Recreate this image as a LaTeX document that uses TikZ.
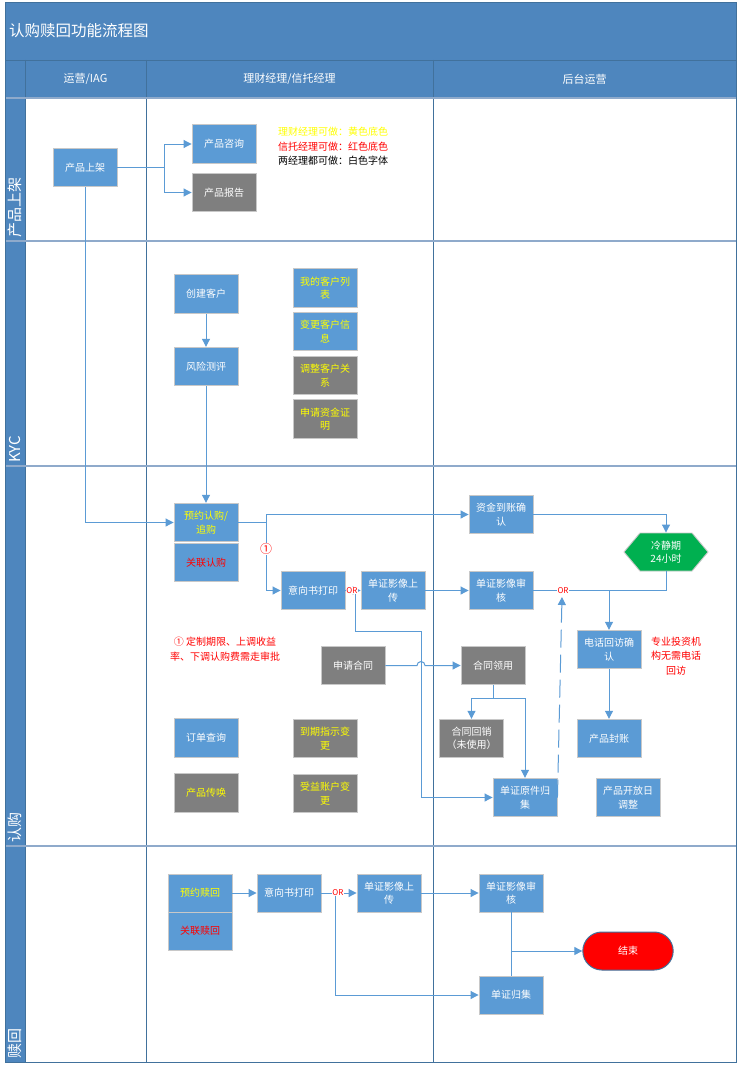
\documentclass[tikz,border=0pt]{standalone}
\usepackage{fontspec}
\setmainfont{Noto Sans CJK SC}
\usetikzlibrary{arrows.meta,shapes.symbols,shapes.misc}

\definecolor{bandblue}{HTML}{4E86BE}
\definecolor{framedark}{HTML}{41719C}
\definecolor{lanesep}{HTML}{8FAACB}
\definecolor{nodeblue}{HTML}{5B9BD5}
\definecolor{nodegray}{HTML}{7F7F7F}
\definecolor{boxedge}{HTML}{C8C8C8}
\definecolor{linkblue}{HTML}{5B9BD5}
\definecolor{hintyellow}{HTML}{FFFF00}
\definecolor{hintred}{HTML}{FF0000}
\definecolor{calmgreen}{HTML}{00B050}

\tikzset{
  box/.style={rectangle, draw=boxedge, line width=0.9pt, fill=nodeblue, text=white,
    minimum width=64pt, minimum height=38.5pt, inner sep=1pt, align=center,
    font=\fontsize{10}{13.5}\selectfont},
  graybox/.style={box, fill=nodegray},
  ybox/.style={box, text=hintyellow},
  ygraybox/.style={graybox, text=hintyellow},
  conn/.style={draw=linkblue, line width=1pt, -{Triangle[length=8pt,width=8pt]}},
  link/.style={draw=linkblue, line width=1pt},
  ortag/.style={text=hintred, font=\fontsize{8}{8}\selectfont, fill=white, inner sep=0.3pt},
  lanetitle/.style={text=white, rotate=90, anchor=west, inner sep=0pt,
    font=\fontsize{15}{15}\selectfont},
  colhead/.style={text=white, font=\fontsize{11}{12}\selectfont},
  note/.style={font=\fontsize{10}{14.5}\selectfont, inner sep=0pt},
}

\begin{document}
\begin{tikzpicture}[x=1pt, y=-1pt]
\useasboundingbox (0,0) rectangle (741,1070);

% ---------- swimlane frame ----------
\fill[white] (5,3) rectangle (736,1062);
\fill[bandblue] (5,3) rectangle (736,98);
\fill[bandblue] (5,98) rectangle (25,1062);
\draw[framedark, line width=0.8pt] (5,60) -- (736,60);
\foreach \xx in {25,146,433}
  \draw[framedark, line width=1pt] (\xx,60) -- (\xx,1062);
\foreach \yy in {98,241,466,846}
  \draw[lanesep, line width=1.6pt] (5,\yy) -- (736,\yy);
\draw[framedark, line width=1pt] (5,3) rectangle (736,1062);

\node[text=white, anchor=west, inner sep=0pt, font=\fontsize{15.5}{16}\selectfont] (title) at (9,31) {认购赎回功能流程图};
\node[colhead] (h1) at (85.5,79) {运营/IAG};
\node[colhead] (h2) at (289.5,79) {理财经理/信托经理};
\node[colhead] (h3) at (584.5,79) {后台运营};

\node[lanetitle] (l1) at (15,238) {产品上架};
\node[lanetitle] (l2) at (15,463) {KYC};
\node[lanetitle] (l3) at (15,843) {认购};
\node[lanetitle] (l4) at (15,1059) {赎回};

% ---------- 产品上架 ----------
\node[box] (cpsj) at (85,167.5) {产品上架};
\node[box] (cpzx) at (224,144) {产品咨询};
\node[graybox] (cpbg) at (224,192.5) {产品报告};
\node[note, text=hintyellow, anchor=west] (lg1) at (278,132) {理财经理可做：黄色底色};
\node[note, text=hintred, anchor=west] (lg2) at (278,146.5) {信托经理可做：红色底色};
\node[note, text=black, anchor=west] (lg3) at (278,161) {两经理都可做：白色字体};

\coordinate (split1) at (164,167.5);
\draw[link] (cpsj.east) -- (split1);
\draw[conn] (split1) |- (cpzx.west);
\draw[conn] (split1) |- (cpbg.west);

% ---------- KYC ----------
\node[box] (cjkh) at (206,294) {创建客户};
\node[box] (fxcp) at (206,366.5) {风险测评};
\node[ybox] (wdkh) at (325,288) {我的客户列\\表};
\node[ybox] (bgkh) at (325,331.5) {变更客户信\\息};
\node[ygraybox] (tzkh) at (325,375.5) {调整客户关\\系};
\node[ygraybox] (sqzj) at (325,419) {申请资金证\\明};
\draw[conn] (cjkh) -- (fxcp);

% ---------- 认购 ----------
\node[ybox] (yyrg) at (206,522.5) {预约认购/\\追购};
\node[box, text=hintred] (glrg) at (206,562.5) {关联认购};
\node[box] (zjdz) at (501,514.5) {资金到账确\\认};
\node[shape=signal, signal to=east and west, signal pointer angle=100,
      draw=boxedge, line width=0.9pt, fill=calmgreen, text=white, align=center,
      minimum width=84pt, minimum height=38pt, inner sep=1pt,
      font=\fontsize{10}{13.5}\selectfont] (ljq) at (666,552) {冷静期\\24小时};
\node[box] (yxs1) at (313,590.5) {意向书打印};
\node[box] (scsc1) at (393,590.5) {单证影像上\\传};
\node[box] (ysh1) at (501,590.5) {单证影像审\\核};
\node[box] (dhhf) at (609,649.5) {电话回访确\\认};
\node[note, text=hintred, align=center] (zytz) at (676,656) {专业投资机\\构无需电话\\回访};
\node[box] (cpfz) at (609,738.5) {产品封账};
\node[box] (kfr) at (628,797.5) {产品开放日\\调整};
\node[graybox] (sqht) at (353,665.5) {申请合同};
\node[graybox] (htly) at (493,665.5) {合同领用};
\node[graybox] (hthx) at (471.5,738.5) {合同回销\\（未使用）};
\node[box] (yjgj) at (525,797.5) {单证原件归\\集};
\node[note, text=hintred, align=center] (shenpi) at (225,649) {① 定制期限、上调收益\\率、下调认购费需走审批};
\node[box] (ddcx) at (206,738) {订单查询};
\node[graybox, text=hintyellow] (cpch) at (206,793) {产品传唤};
\node[ygraybox] (dqzs) at (325,738.5) {到期指示变\\更};
\node[ygraybox] (syzh) at (325,793.5) {受益账户变\\更};

\draw[conn] (cpsj.south) |- (yyrg.west);
\draw[conn] (fxcp) -- (yyrg);

\coordinate (fork) at (266,522.5);
\draw[link] (yyrg.east) -- (fork);
\draw[conn] (fork) -- (266,514.5) -- (zjdz.west);
\draw[conn] (fork) |- (yxs1.west);
\node[text=hintred, fill=white, inner sep=0.3pt, font=\fontsize{12}{12}\selectfont] (mark1) at (266,549) {①};

\coordinate (orA) at (355,590.5);
\draw[conn] (yxs1.east) -- (scsc1.west);
\draw[conn] (orA) -- (355,631) -- (421,631) -- (421,797.5) -- (yjgj.west);
\node[ortag] (or1) at (352,590.5) {OR};
\draw[conn] (scsc1.east) -- (ysh1.west);

\draw[conn] (zjdz.east) -| (ljq.north);
\coordinate (joinB) at (609,590.5);
\draw[link] (ljq.south) |- (joinB);
\draw[conn] (ysh1.east) -- (joinB) -- (dhhf.north);
\node[ortag] (or2) at (563,590.5) {OR};
\coordinate (orBtip) at (562,597);
\draw[conn, dash pattern=on 18pt off 7pt] (yjgj.east) -- (orBtip);
\draw[conn] (dhhf) -- (cpfz);

% contract request hops over the archive line
\draw[conn] (sqht.east) -- (417,665.5) arc[start angle=180, end angle=360, radius=4] -- (htly.west);
\coordinate (htsplit) at (493,698);
\draw[link] (htly.south) -- (htsplit);
\draw[conn] (htsplit) -| (hthx.north);
\draw[conn] (htsplit) -| (yjgj.north);

% ---------- 赎回 ----------
\node[ybox, minimum height=38pt] (yysh) at (200,893) {预约赎回};
\node[box, text=hintred, minimum height=38pt] (glsh) at (200,931) {关联赎回};
\node[box, minimum height=38pt] (yxs2) at (289,893) {意向书打印};
\node[box, minimum height=38pt] (scsc2) at (389,893) {单证影像上\\传};
\node[box, minimum height=38pt] (ysh2) at (511,893) {单证影像审\\核};
\node[box, minimum height=38pt] (djgj) at (511,995) {单证归集};
\node[rounded rectangle, draw=framedark, line width=1pt, fill=hintred, text=white,
      minimum width=97pt, minimum height=38pt, font=\fontsize{10}{13.5}\selectfont] (jieshu) at (628,951) {结束};

\draw[conn] (yysh.east) -- (yxs2.west);
\draw[conn] (yxs2.east) -- (scsc2.west);
\coordinate (orC) at (335,893);
\draw[conn] (orC) |- (djgj.west);
\node[ortag] (or3) at (338,893) {OR};
\draw[conn] (scsc2.east) -- (ysh2.west);
\draw[link] (ysh2.south) -- (djgj.north);
\coordinate (endjoin) at (511,951);
\draw[conn] (endjoin) -- (jieshu.west);

\end{tikzpicture}
\end{document}
